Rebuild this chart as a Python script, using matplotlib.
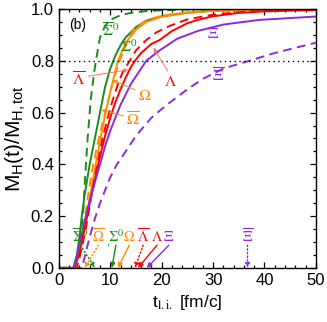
import matplotlib
matplotlib.use('Agg')
import matplotlib.pyplot as plt
from matplotlib.ticker import MultipleLocator

plt.rcParams['font.family'] = ['Liberation Sans', 'DejaVu Sans']
plt.rcParams['mathtext.fontset'] = 'stix'

# curves: t [fm/c] and M_H(t)/M_H,tot
t_sig0 = [0, 2.8, 3.5, 4.0, 4.4, 5.0, 6.0, 7.0, 8.0, 9.0, 10.0, 11.0, 12.0, 13.0, 15.0, 17.0, 20.0, 25.0, 30.0, 40.0, 50.0]
m_sig0 = [0, 0, 0.05, 0.12, 0.19, 0.28, 0.40, 0.50, 0.60, 0.70, 0.77, 0.82, 0.86, 0.89, 0.93, 0.955, 0.972, 0.986, 0.993, 0.998, 1.0]

t_asig0 = [0, 3.0, 3.6, 4.1, 4.7, 5.2, 5.6, 6.2, 6.9, 7.3, 8.0, 9.0, 10.0, 12.0, 14.0, 17.0, 20.0, 25.0, 30.0, 50.0]
m_asig0 = [0, 0, 0.04, 0.10, 0.21, 0.38, 0.50, 0.65, 0.76, 0.81, 0.89, 0.935, 0.958, 0.976, 0.985, 0.992, 0.995, 0.998, 1.0, 1.0]

t_om = [0, 3.0, 4.0, 5.0, 6.0, 7.0, 8.0, 9.0, 10.0, 11.0, 11.5, 13.0, 15.0, 17.0, 20.0, 25.0, 30.0, 40.0, 50.0]
m_om = [0, 0, 0.05, 0.15, 0.27, 0.38, 0.49, 0.59, 0.68, 0.76, 0.80, 0.87, 0.92, 0.95, 0.97, 0.985, 0.993, 0.998, 1.0]

t_aom = [0, 3.2, 4.0, 5.0, 6.0, 6.7, 8.0, 9.0, 10.0, 11.0, 12.0, 13.0, 14.5, 17.0, 20.0, 25.0, 30.0, 50.0]
m_aom = [0, 0, 0.05, 0.19, 0.32, 0.40, 0.52, 0.60, 0.68, 0.75, 0.81, 0.86, 0.92, 0.955, 0.975, 0.987, 0.994, 1.0]

t_lam = [0, 3.0, 4.0, 5.0, 6.0, 7.0, 8.0, 9.0, 10.0, 11.0, 12.0, 13.0, 14.0, 14.8, 16.0, 18.0, 19.6, 22.0, 25.0, 27.0, 30.0, 35.0, 40.0, 50.0]
m_lam = [0, 0, 0.06, 0.15, 0.25, 0.34, 0.43, 0.51, 0.58, 0.64, 0.69, 0.735, 0.775, 0.80, 0.83, 0.865, 0.88, 0.915, 0.945, 0.958, 0.972, 0.985, 0.991, 0.996]

t_alam = [0, 3.5, 4.5, 5.5, 6.5, 7.5, 8.5, 9.5, 10.5, 11.5, 12.5, 13.8, 15.0, 17.0, 19.0, 21.6, 25.0, 30.0, 35.0, 40.0, 50.0]
m_alam = [0, 0, 0.08, 0.18, 0.30, 0.40, 0.50, 0.58, 0.65, 0.71, 0.76, 0.80, 0.84, 0.88, 0.91, 0.935, 0.96, 0.978, 0.988, 0.993, 0.998]

t_xi = [0, 3.0, 4.0, 5.0, 6.0, 7.0, 8.0, 9.0, 10.0, 11.0, 12.0, 13.0, 14.0, 15.0, 17.0, 19.6, 23.0, 27.0, 32.0, 39.0, 50.0]
m_xi = [0, 0, 0.09, 0.18, 0.26, 0.33, 0.40, 0.47, 0.53, 0.58, 0.63, 0.67, 0.71, 0.74, 0.80, 0.84, 0.885, 0.915, 0.94, 0.958, 0.971]

t_axi = [0, 4.5, 5.0, 6.0, 7.0, 8.0, 9.0, 10.0, 11.3, 13.0, 15.0, 18.0, 21.0, 25.0, 28.0, 32.0, 37.0, 42.0, 46.0, 50.0]
m_axi = [0, 0, 0.04, 0.12, 0.19, 0.25, 0.30, 0.35, 0.40, 0.45, 0.51, 0.58, 0.63, 0.69, 0.73, 0.77, 0.80, 0.83, 0.85, 0.87]

# times marked by arrows at the bottom
mark_names = [r'$\overline{\Sigma}^0$', r'$\overline{\Omega}$', r'$\Sigma^0$', r'$\Omega$',
              r'$\overline{\Lambda}$', r'$\Lambda$', r'$\Xi$', r'$\overline{\Xi}$']
mark_t = [7.0, 5.0, 10.3, 11.5, 14.8, 15.4, 17.1, 36.7]
mark_label_t = [4.2, 7.7, 11.1, 13.7, 16.4, 19.1, 21.4, 36.7]

green = '#1a8c1a'
orange = '#ff8c00'
red = '#ff0000'
purple = '#8a2be2'
pale_red = '#ff7070'
mark_col = [green, orange, green, orange, red, red, purple, purple]
mark_ls = [':', ':', '-', '-', ':', '-', '-', ':']

fig = plt.figure(figsize=(3.27, 3.22), dpi=100)
ax = fig.add_axes([0.180, 0.168, 0.786, 0.804])

lw = 1.4
dsh = (0, (4.5, 2.8))
ax.plot(t_asig0, m_asig0, color=green, lw=lw, ls=dsh)
ax.plot(t_sig0, m_sig0, color=green, lw=lw)
ax.plot(t_aom, m_aom, color=orange, lw=lw, ls=dsh)
ax.plot(t_om, m_om, color=orange, lw=lw)
ax.plot(t_alam, m_alam, color=red, lw=lw, ls=dsh)
ax.plot(t_lam, m_lam, color=red, lw=lw)
ax.plot(t_axi, m_axi, color=purple, lw=lw, ls=dsh)
ax.plot(t_xi, m_xi, color=purple, lw=lw)

ax.axhline(0.8, color='black', lw=1.0, ls=(0, (1, 2.5)))

fs = 11.5
ax.text(3.6, 0.94, '(b)', fontsize=10, ha='center', va='center')
ax.text(10.0, 0.915, r'$\overline{\Sigma}^0$', color=green, fontsize=fs, ha='center', va='center')
ax.text(13.6, 0.855, r'$\Sigma^0$', color=green, fontsize=fs, ha='center', va='center')
ax.text(30.0, 0.905, r'$\Xi$', color=purple, fontsize=fs, ha='center', va='center')
ax.text(31.0, 0.74, r'$\overline{\Xi}$', color=purple, fontsize=fs, ha='center', va='center')

ap = dict(arrowstyle='-|>', lw=0.7, mutation_scale=6, shrinkA=0, shrinkB=0)
ax.annotate(r'$\overline{\Lambda}$', xy=(13.5, 0.765), xytext=(3.9, 0.725), color=red, fontsize=fs,
            ha='center', va='center', arrowprops=dict(ap, color=pale_red, relpos=(1.0, 0.7)))
ax.annotate(r'$\Lambda$', xy=(18.4, 0.85), xytext=(21.8, 0.72), color=red, fontsize=fs,
            ha='center', va='center', arrowprops=dict(ap, color=pale_red, relpos=(0.4, 1.0)))
ax.annotate(r'$\Omega$', xy=(10.5, 0.726), xytext=(16.7, 0.665), color=orange, fontsize=fs,
            ha='center', va='center', arrowprops=dict(ap, color=orange, relpos=(0.0, 0.8)))
ax.annotate(r'$\overline{\Omega}$', xy=(8.3, 0.61), xytext=(14.5, 0.57), color=orange, fontsize=fs,
            ha='center', va='center', arrowprops=dict(ap, color=orange, relpos=(0.0, 0.7)))

fsb = 10.5
for name, tm, tl, c, ls in zip(mark_names, mark_t, mark_label_t, mark_col, mark_ls):
    ax.annotate('', xy=(tm, 0.0), xytext=(tl, 0.088),
                arrowprops=dict(arrowstyle='-|>', color=c, lw=1.0, ls=ls, mutation_scale=7,
                                shrinkA=0, shrinkB=0))
    ax.text(tl, 0.12, name, color=c, fontsize=fsb, ha='center', va='center')
ax.text(9.4, 0.1, ',', color=green, fontsize=8, ha='center', va='center')

ax.set_xlim(0, 50)
ax.set_ylim(0, 1.0)
ax.xaxis.set_major_locator(MultipleLocator(10))
ax.xaxis.set_minor_locator(MultipleLocator(2))
ax.yaxis.set_major_locator(MultipleLocator(0.2))
ax.yaxis.set_minor_locator(MultipleLocator(0.05))
ax.tick_params(which='both', direction='in', top=True, right=True, labelsize=12, width=0.9)
ax.tick_params(which='major', length=4)
ax.tick_params(which='minor', length=2)
ax.set_yticks([0, 0.2, 0.4, 0.6, 0.8, 1.0])
ax.set_yticklabels(['0.0', '0.2', '0.4', '0.6', '0.8', '1.0'])
for sp in ax.spines.values():
    sp.set_linewidth(1.0)

ax.set_xlabel(r'$\mathregular{t}_{\mathrm{l.i.}}$ [fm/c]', fontsize=12.5, labelpad=4)
ax.set_ylabel(r'$\mathregular{M_H(t)/M_{H,tot}}$', fontsize=15, labelpad=2)

fig.savefig('out.png', dpi=100)
